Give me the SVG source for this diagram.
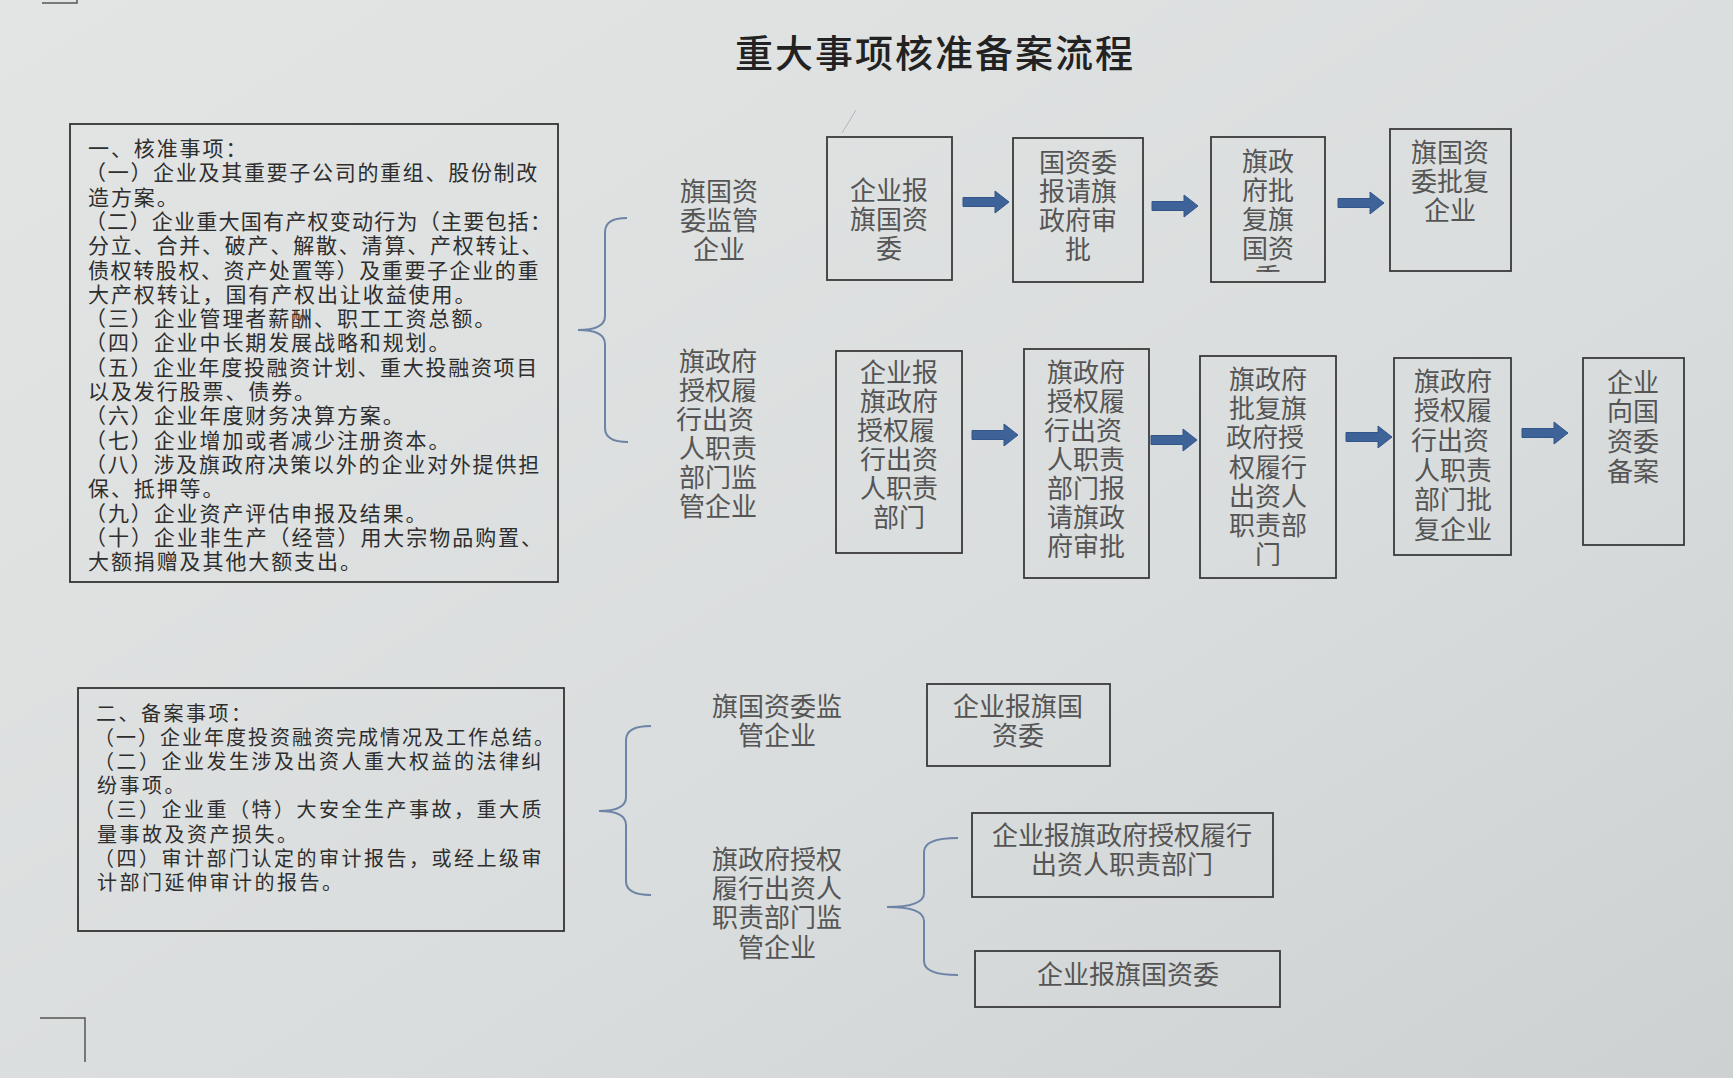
<svg xmlns="http://www.w3.org/2000/svg" width="1733" height="1078" viewBox="0 0 1733 1078">
<defs>
<linearGradient id="bg" x1="0" y1="0" x2="1" y2="1">
<stop offset="0" stop-color="#e2e5e4"/>
<stop offset="0.6" stop-color="#dadddd"/>
<stop offset="1" stop-color="#cdd1d2"/>
</linearGradient>
<path id="arr" d="M0,-4.5 H32 V-11 L46,0 L32,11 V4.5 H0 Z"/>
<clipPath id="clipB3"><rect x="1212" y="138" width="112" height="134"/></clipPath>
<style>
.box{fill:none;stroke:#3a3a3a;stroke-width:1.8}
.note{fill:none;stroke:#333;stroke-width:1.8}
.t1{font-family:"Noto Sans CJK SC","Noto Sans CJK JP",sans-serif;font-size:21px;letter-spacing:1.9px;fill:#2e2e2e}
.t2{font-family:"Noto Sans CJK SC","Noto Sans CJK JP",sans-serif;font-size:20px;letter-spacing:2.5px;fill:#2e2e2e}
.f{font-family:"Noto Sans CJK SC","Noto Sans CJK JP",sans-serif;font-size:26px;fill:#555;text-anchor:middle}
.title{font-family:"Noto Sans CJK SC","Noto Sans CJK JP",sans-serif;font-size:38px;letter-spacing:2px;fill:#222;text-anchor:middle;font-weight:500}
.brace{fill:none;stroke:#6d84a6;stroke-width:2}
.arrow{fill:#3d6399;stroke:#34558a;stroke-width:1}
.mark{fill:none;stroke:#555;stroke-width:1.5}
</style>
</defs>
<rect x="0" y="0" width="1733" height="1078" fill="url(#bg)"/>

<g id="marks">
<path class="mark" d="M42,3 H77 V0"/>
<path class="mark" d="M40,1018 H85 V1062"/>
<line x1="856" y1="110" x2="842" y2="133" stroke="#b3b7b8" stroke-width="1"/>
</g>

<g id="title"><text class="title" x="935" y="67">重大事项核准备案流程</text></g>

<g id="note1">
<rect class="note" x="70" y="124" width="488" height="458"/>
<text class="t1">
<tspan x="88" y="156">一、核准事项：</tspan>
<tspan x="85" y="180.3" style="letter-spacing:1.7px">（一）企业及其重要子公司的重组、股份制改</tspan>
<tspan x="88" y="204.6">造方案。</tspan>
<tspan x="85" y="228.9" style="letter-spacing:1.25px">（二）企业重大国有产权变动行为（主要包括：</tspan>
<tspan x="88" y="253.2" style="letter-spacing:1.8px">分立、合并、破产、解散、清算、产权转让、</tspan>
<tspan x="88" y="277.5" style="letter-spacing:1.6px">债权转股权、资产处置等）及重要子企业的重</tspan>
<tspan x="88" y="301.8">大产权转让，国有产权出让收益使用。</tspan>
<tspan x="85" y="326.1">（三）企业管理者薪酬、职工工资总额。</tspan>
<tspan x="85" y="350.4">（四）企业中长期发展战略和规划。</tspan>
<tspan x="85" y="374.7" style="letter-spacing:1.7px">（五）企业年度投融资计划、重大投融资项目</tspan>
<tspan x="88" y="399">以及发行股票、债券。</tspan>
<tspan x="85" y="423.3">（六）企业年度财务决算方案。</tspan>
<tspan x="85" y="447.6">（七）企业增加或者减少注册资本。</tspan>
<tspan x="85" y="471.9" style="letter-spacing:1.8px">（八）涉及旗政府决策以外的企业对外提供担</tspan>
<tspan x="88" y="496.2">保、抵押等。</tspan>
<tspan x="85" y="520.5">（九）企业资产评估申报及结果。</tspan>
<tspan x="85" y="544.8" style="letter-spacing:1.95px">（十）企业非生产（经营）用大宗物品购置、</tspan>
<tspan x="88" y="569.1">大额捐赠及其他大额支出。</tspan>
</text>
</g>

<g id="note2">
<rect class="note" x="78" y="688" width="486" height="243"/>
<text class="t2">
<tspan x="96" y="721">二、备案事项：</tspan>
<tspan x="94" y="745.1" style="letter-spacing:2px">（一）企业年度投资融资完成情况及工作总结。</tspan>
<tspan x="94" y="769.2">（二）企业发生涉及出资人重大权益的法律纠</tspan>
<tspan x="97" y="793.3">纷事项。</tspan>
<tspan x="94" y="817.4">（三）企业重（特）大安全生产事故，重大质</tspan>
<tspan x="97" y="841.5">量事故及资产损失。</tspan>
<tspan x="94" y="865.6">（四）审计部门认定的审计报告，或经上级审</tspan>
<tspan x="97" y="889.7">计部门延伸审计的报告。</tspan>
</text>
</g>

<g id="label1"><text class="f"><tspan x="719" y="201">旗国资</tspan><tspan x="719" y="230">委监管</tspan><tspan x="719" y="259">企业</tspan></text></g>
<g id="label2"><text class="f">
<tspan x="718" y="371">旗政府</tspan><tspan x="718" y="400">授权履</tspan><tspan x="718" y="429">行出资</tspan>
<tspan x="718" y="458">人职责</tspan><tspan x="718" y="487">部门监</tspan><tspan x="718" y="516">管企业</tspan></text></g>

<g id="b1"><rect class="box" x="827" y="137" width="125" height="143"/>
<text class="f"><tspan x="889" y="200">企业报</tspan><tspan x="889" y="229">旗国资</tspan><tspan x="889" y="258">委</tspan></text></g>
<g id="b2"><rect class="box" x="1013" y="138" width="130" height="144"/>
<text class="f"><tspan x="1078" y="172">国资委</tspan><tspan x="1078" y="201">报请旗</tspan><tspan x="1078" y="230">政府审</tspan><tspan x="1078" y="259">批</tspan></text></g>
<g id="b3"><rect class="box" x="1211" y="137" width="114" height="145"/>
<text class="f" clip-path="url(#clipB3)"><tspan x="1268" y="171">旗政</tspan><tspan x="1268" y="200">府批</tspan><tspan x="1268" y="229">复旗</tspan><tspan x="1268" y="258">国资</tspan><tspan x="1268" y="287">委</tspan></text></g>
<g id="b4"><rect class="box" x="1390" y="129" width="121" height="142"/>
<text class="f"><tspan x="1450" y="162">旗国资</tspan><tspan x="1450" y="191">委批复</tspan><tspan x="1450" y="220">企业</tspan></text></g>

<g id="b5"><rect class="box" x="836" y="351" width="126" height="202"/>
<text class="f"><tspan x="899" y="382">企业报</tspan><tspan x="899" y="411">旗政府</tspan><tspan x="899" y="440">授权履</tspan>
<tspan x="899" y="469">行出资</tspan><tspan x="899" y="498">人职责</tspan><tspan x="899" y="527">部门</tspan></text></g>
<g id="b6"><rect class="box" x="1024" y="349" width="125" height="229"/>
<text class="f"><tspan x="1086" y="382">旗政府</tspan><tspan x="1086" y="411">授权履</tspan><tspan x="1086" y="440">行出资</tspan>
<tspan x="1086" y="469">人职责</tspan><tspan x="1086" y="498">部门报</tspan><tspan x="1086" y="527">请旗政</tspan><tspan x="1086" y="556">府审批</tspan></text></g>
<g id="b7"><rect class="box" x="1200" y="356" width="136" height="222"/>
<text class="f"><tspan x="1268" y="389">旗政府</tspan><tspan x="1268" y="418">批复旗</tspan><tspan x="1268" y="447">政府授</tspan>
<tspan x="1268" y="477">权履行</tspan><tspan x="1268" y="506">出资人</tspan><tspan x="1268" y="535">职责部</tspan><tspan x="1268" y="564">门</tspan></text></g>
<g id="b8"><rect class="box" x="1394" y="358" width="117" height="197"/>
<text class="f"><tspan x="1453" y="391">旗政府</tspan><tspan x="1453" y="420">授权履</tspan><tspan x="1453" y="450">行出资</tspan>
<tspan x="1453" y="480">人职责</tspan><tspan x="1453" y="509">部门批</tspan><tspan x="1453" y="539">复企业</tspan></text></g>
<g id="b9"><rect class="box" x="1583" y="358" width="101" height="187"/>
<text class="f"><tspan x="1633" y="392">企业</tspan><tspan x="1633" y="421">向国</tspan><tspan x="1633" y="451">资委</tspan><tspan x="1633" y="481">备案</tspan></text></g>

<g id="label3"><text class="f"><tspan x="777" y="716">旗国资委监</tspan><tspan x="777" y="745">管企业</tspan></text></g>
<g id="b10"><rect class="box" x="927" y="684" width="183" height="82"/>
<text class="f"><tspan x="1018" y="716">企业报旗国</tspan><tspan x="1018" y="745">资委</tspan></text></g>
<g id="label4"><text class="f"><tspan x="777" y="869">旗政府授权</tspan><tspan x="777" y="898">履行出资人</tspan><tspan x="777" y="927">职责部门监</tspan><tspan x="777" y="957">管企业</tspan></text></g>
<g id="b11"><rect class="box" x="972" y="813" width="301" height="84"/>
<text class="f"><tspan x="1122" y="845">企业报旗政府授权履行</tspan><tspan x="1122" y="874">出资人职责部门</tspan></text></g>
<g id="b12"><rect class="box" x="975" y="951" width="305" height="56"/>
<text class="f" x="1128" y="984">企业报旗国资委</text></g>

<g id="connectors">
<path class="brace" d="M627,218 Q605,218 605,232 V316 Q605,330 578,330 Q605,330 605,344 V428 Q605,442 628,442"/>
<path class="brace" d="M651,726 Q626,726 626,740 V797 Q626,811 599,811 Q626,811 626,825 V881 Q626,895 651,895"/>
<path class="brace" d="M958,838 Q924,838 924,852 V893 Q924,907 887,907 Q924,907 924,921 V961 Q924,975 958,975"/>
<use href="#arr" class="arrow" x="963" y="202"/>
<use href="#arr" class="arrow" x="1152" y="206"/>
<use href="#arr" class="arrow" x="1338" y="203"/>
<use href="#arr" class="arrow" x="972" y="435"/>
<use href="#arr" class="arrow" x="1151" y="440"/>
<use href="#arr" class="arrow" x="1346" y="437"/>
<use href="#arr" class="arrow" x="1522" y="433"/>
</g>
</svg>
